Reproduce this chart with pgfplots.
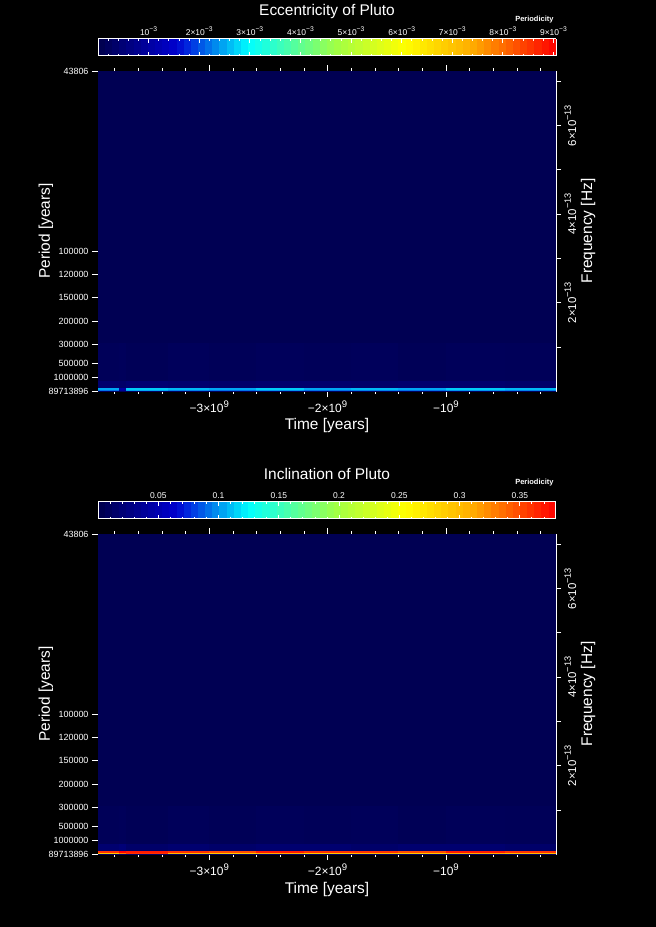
\documentclass[border=0pt]{standalone}
\usepackage{fontspec}
\setmainfont{Liberation Sans}
\usepackage{pgfplots}
\usepackage{pgfplotstable}
\pgfplotsset{compat=1.18}

% spectrogram amplitude, time in 1e9 yr, frequency in 1e-13 Hz
\pgfplotstableread{
t f v
-3.94 0.003532 0.0002
-3.76 0.003532 0.0002
-3.70 0.003532 0.0002
-3.35 0.003532 0.0002
-3.00 0.003532 0.0002
-2.60 0.003532 0.0002
-2.20 0.003532 0.0002
-1.80 0.003532 0.0002
-1.40 0.003532 0.0002
-1.00 0.003532 0.0002
-0.50 0.003532 0.0002
-0.07 0.003532 0.0002
-3.94 0.025 0.0022
-3.76 0.025 0.0009
-3.70 0.025 0.0025
-3.35 0.025 0.0023
-3.00 0.025 0.0022
-2.60 0.025 0.0024
-2.20 0.025 0.0022
-1.80 0.025 0.0023
-1.40 0.025 0.0022
-1.00 0.025 0.0024
-0.50 0.025 0.0023
-0.07 0.025 0.0023
-3.94 0.052 0.0025
-3.76 0.052 0.0010
-3.70 0.052 0.0027
-3.35 0.052 0.0026
-3.00 0.052 0.0025
-2.60 0.052 0.0027
-2.20 0.052 0.0025
-1.80 0.052 0.0026
-1.40 0.052 0.0025
-1.00 0.052 0.0027
-0.50 0.052 0.0026
-0.07 0.052 0.0026
-3.94 0.085 0.0004
-3.76 0.085 0.00035
-3.70 0.085 0.00045
-3.35 0.085 0.0004
-3.00 0.085 0.00035
-2.60 0.085 0.0004
-2.20 0.085 0.0004
-1.80 0.085 0.00035
-1.40 0.085 0.0004
-1.00 0.085 0.0004
-0.50 0.085 0.00035
-0.07 0.085 0.00035
-3.94 0.25 0.00016
-3.76 0.25 0.00019
-3.70 0.25 0.00014
-3.35 0.25 0.00019
-3.00 0.25 0.00015
-2.60 0.25 0.00019
-2.20 0.25 0.00016
-1.80 0.25 0.00019
-1.40 0.25 0.00014
-1.00 0.25 0.00018
-0.50 0.25 0.00016
-0.07 0.25 0.00016
-3.94 1.1 0.0001
-3.76 1.1 0.0001
-3.70 1.1 0.0001
-3.35 1.1 0.0001
-3.00 1.1 0.0001
-2.60 1.1 0.0001
-2.20 1.1 0.0001
-1.80 1.1 0.0001
-1.40 1.1 0.0001
-1.00 1.1 0.0001
-0.50 1.1 0.0001
-0.07 1.1 0.0001
-3.94 7.2338 0.0001
-3.76 7.2338 0.0001
-3.70 7.2338 0.0001
-3.35 7.2338 0.0001
-3.00 7.2338 0.0001
-2.60 7.2338 0.0001
-2.20 7.2338 0.0001
-1.80 7.2338 0.0001
-1.40 7.2338 0.0001
-1.00 7.2338 0.0001
-0.50 7.2338 0.0001
-0.07 7.2338 0.0001
}\ecc

\pgfplotstableread{
t f v
-3.94 0.003532 0.01
-3.76 0.003532 0.01
-3.70 0.003532 0.01
-3.35 0.003532 0.01
-3.00 0.003532 0.01
-2.60 0.003532 0.01
-2.20 0.003532 0.01
-1.80 0.003532 0.01
-1.40 0.003532 0.01
-1.00 0.003532 0.01
-0.50 0.003532 0.01
-0.07 0.003532 0.01
-3.94 0.025 0.29
-3.76 0.025 0.33
-3.70 0.025 0.36
-3.35 0.025 0.30
-3.00 0.025 0.29
-2.60 0.025 0.31
-2.20 0.025 0.29
-1.80 0.025 0.30
-1.40 0.025 0.29
-1.00 0.025 0.31
-0.50 0.025 0.30
-0.07 0.025 0.30
-3.94 0.052 0.36
-3.76 0.052 0.38
-3.70 0.052 0.37
-3.35 0.052 0.36
-3.00 0.052 0.35
-2.60 0.052 0.37
-2.20 0.052 0.36
-1.80 0.052 0.36
-1.40 0.052 0.35
-1.00 0.052 0.37
-0.50 0.052 0.36
-0.07 0.052 0.36
-3.94 0.085 0.018
-3.76 0.085 0.022
-3.70 0.085 0.015
-3.35 0.085 0.018
-3.00 0.085 0.015
-2.60 0.085 0.018
-2.20 0.085 0.018
-1.80 0.085 0.015
-1.40 0.085 0.018
-1.00 0.085 0.018
-0.50 0.085 0.015
-0.07 0.085 0.015
-3.94 0.25 0.0065
-3.76 0.25 0.0075
-3.70 0.25 0.0055
-3.35 0.25 0.0075
-3.00 0.25 0.006
-2.60 0.25 0.0075
-2.20 0.25 0.0065
-1.80 0.25 0.0075
-1.40 0.25 0.0055
-1.00 0.25 0.007
-0.50 0.25 0.0065
-0.07 0.25 0.0065
-3.94 1.1 0.004
-3.76 1.1 0.004
-3.70 1.1 0.004
-3.35 1.1 0.004
-3.00 1.1 0.004
-2.60 1.1 0.004
-2.20 1.1 0.004
-1.80 1.1 0.004
-1.40 1.1 0.004
-1.00 1.1 0.004
-0.50 1.1 0.004
-0.07 1.1 0.004
-3.94 7.2338 0.004
-3.76 7.2338 0.004
-3.70 7.2338 0.004
-3.35 7.2338 0.004
-3.00 7.2338 0.004
-2.60 7.2338 0.004
-2.20 7.2338 0.004
-1.80 7.2338 0.004
-1.40 7.2338 0.004
-1.00 7.2338 0.004
-0.50 7.2338 0.004
-0.07 7.2338 0.004
}\incl

\newcommand{\sps}[1]{\raisebox{0.45em}{\fontsize{0.8em}{1em}\selectfont #1}}

\pgfplotsset{
  colormap={idl}{rgb255(0cm)=(0,0,75); rgb255(17cm)=(0,0,205); rgb255(20cm)=(0,45,225);
    rgb255(33cm)=(0,255,255); rgb255(52cm)=(160,255,70); rgb255(67cm)=(255,255,0);
    rgb255(82cm)=(255,170,0); rgb255(100cm)=(255,0,0)},
  panel/.style={
    anchor=south west, width=458bp, height=320bp, scale only axis,
    xmin=-3.94, xmax=-0.07, ymin=0.003532, ymax=7.2338,
    axis line style={white, line width=1bp},
    tick align=outside,
    every tick/.style={white, line width=0.8bp},
    major tick length=6bp, minor tick length=3bp,
    ticklabel style={text=white},
    colormap name=idl,
  },
  spec/.style={
    panel,
    xtick={-3,-2,-1},
    xticklabels={−3×10\sps{9}, −2×10\sps{9}, −10\sps{9}},
    minor xtick={-3.8,-3.6,-3.4,-3.2,-2.8,-2.6,-2.4,-2.2,-1.8,-1.6,-1.4,-1.2,-0.8,-0.6,-0.4,-0.2},
    xtick pos=both, xticklabel pos=lower,
    ytick={0.003532,0.3169,0.6338,1.0563,1.5844,2.1125,2.6407,3.1688,7.2338},
    yticklabels={89713896,1000000,500000,300000,200000,150000,120000,100000,43806},
    ytick pos=left,
    yticklabel style={font=\fontsize{9}{10}\selectfont},
    xticklabel style={font=\fontsize{12}{13}\selectfont},
    xlabel={Time [years]}, ylabel={Period [years]},
    every axis x label/.style={at={(axis description cs:0.5,0)}, yshift=-35bp, anchor=center,
      text=white, font=\fontsize{15.5}{16}\selectfont},
    every axis y label/.style={at={(axis description cs:0,0.5)}, xshift=-52bp, rotate=90, anchor=center,
      text=white, font=\fontsize{15.5}{16}\selectfont},
    title style={at={(axis description cs:0.5,1)}, anchor=center, yshift=54bp,
      text=white, font=\fontsize{15.5}{16}\selectfont},
    colorbar horizontal, colorbar sampled,
  },
  cbar/.style={
    at={(0,1.047)}, anchor=south west,
    width=458bp, height=17bp, scale only axis,
    samples=65,
    scaled x ticks=false,
    xtick pos=both, xticklabel pos=upper,
    tick align=inside,
    major tick length=4bp, minor tick length=2bp,
    axis line style={white, line width=1bp},
    every tick/.style={white, line width=0.8bp},
    xticklabel style={text=white, font=\fontsize{8.5}{9}\selectfont},
    ytick=\empty,
  },
  freq/.style={
    panel,
    axis x line=none, axis y line*=right,
    ytick={1,2,3,4,5,6,7},
    yticklabels={{},{2×10\sps{−13}},{},{4×10\sps{−13}},{},{6×10\sps{−13}},{}},
    yticklabel style={rotate=90, anchor=north, font=\fontsize{11.5}{12}\selectfont},
    major tick length=5bp,
    ylabel={Frequency [Hz]},
    every axis y label/.style={at={(axis description cs:1,0.5)}, xshift=32bp, rotate=90, anchor=center,
      text=white, font=\fontsize{15.5}{16}\selectfont},
  },
}

\begin{document}
\begin{tikzpicture}
\fill[black] (0,0) rectangle (656bp,-927bp);

% top panel: eccentricity
\begin{axis}[spec, at={(98bp,-391bp)},
  title={Eccentricity of Pluto},
  point meta min=0, point meta max=0.00905,
  colorbar style={cbar,
    xtick={0.001,0.002,0.003,0.004,0.005,0.006,0.007,0.008,0.009},
    xticklabels={10\sps{−3}, 2×10\sps{−3}, 3×10\sps{−3},
      4×10\sps{−3}, 5×10\sps{−3}, 6×10\sps{−3},
      7×10\sps{−3}, 8×10\sps{−3}, 9×10\sps{−3}},
    minor xtick={0.0002,0.0004,0.0006,0.0008,0.0012,0.0014,0.0016,0.0018,
      0.0022,0.0024,0.0026,0.0028,0.0032,0.0034,0.0036,0.0038,
      0.0042,0.0044,0.0046,0.0048,0.0052,0.0054,0.0056,0.0058,
      0.0062,0.0064,0.0066,0.0068,0.0072,0.0074,0.0076,0.0078,
      0.0082,0.0084,0.0086,0.0088},
  },
]
\addplot[surf, shader=flat corner, mesh/cols=12, point meta=explicit]
  table[x=t, y=f, meta=v] {\ecc};
\end{axis}
\begin{axis}[freq, at={(98bp,-391bp)}]
\end{axis}
\node[text=white, anchor=east, font=\bfseries\fontsize{7.5}{8}\selectfont] at (557bp,-20bp) {Periodicity};

% bottom panel: inclination
\begin{axis}[spec, at={(98bp,-854bp)},
  title={Inclination of Pluto},
  point meta min=0, point meta max=0.38,
  colorbar style={cbar,
    xtick={0.05,0.1,0.15,0.2,0.25,0.3,0.35},
    xticklabels={0.05,0.1,0.15,0.2,0.25,0.3,0.35},
    minor xtick={0.01,0.02,0.03,0.04,0.06,0.07,0.08,0.09,0.11,0.12,0.13,0.14,
      0.16,0.17,0.18,0.19,0.21,0.22,0.23,0.24,0.26,0.27,0.28,0.29,
      0.31,0.32,0.33,0.34,0.36,0.37},
  },
]
\addplot[surf, shader=flat corner, mesh/cols=12, point meta=explicit]
  table[x=t, y=f, meta=v] {\incl};
\end{axis}
\begin{axis}[freq, at={(98bp,-854bp)}]
\end{axis}
\node[text=white, anchor=east, font=\bfseries\fontsize{7.5}{8}\selectfont] at (557bp,-483bp) {Periodicity};

\pgfresetboundingbox
\useasboundingbox (0,0) rectangle (656bp,-927bp);
\end{tikzpicture}
\end{document}
